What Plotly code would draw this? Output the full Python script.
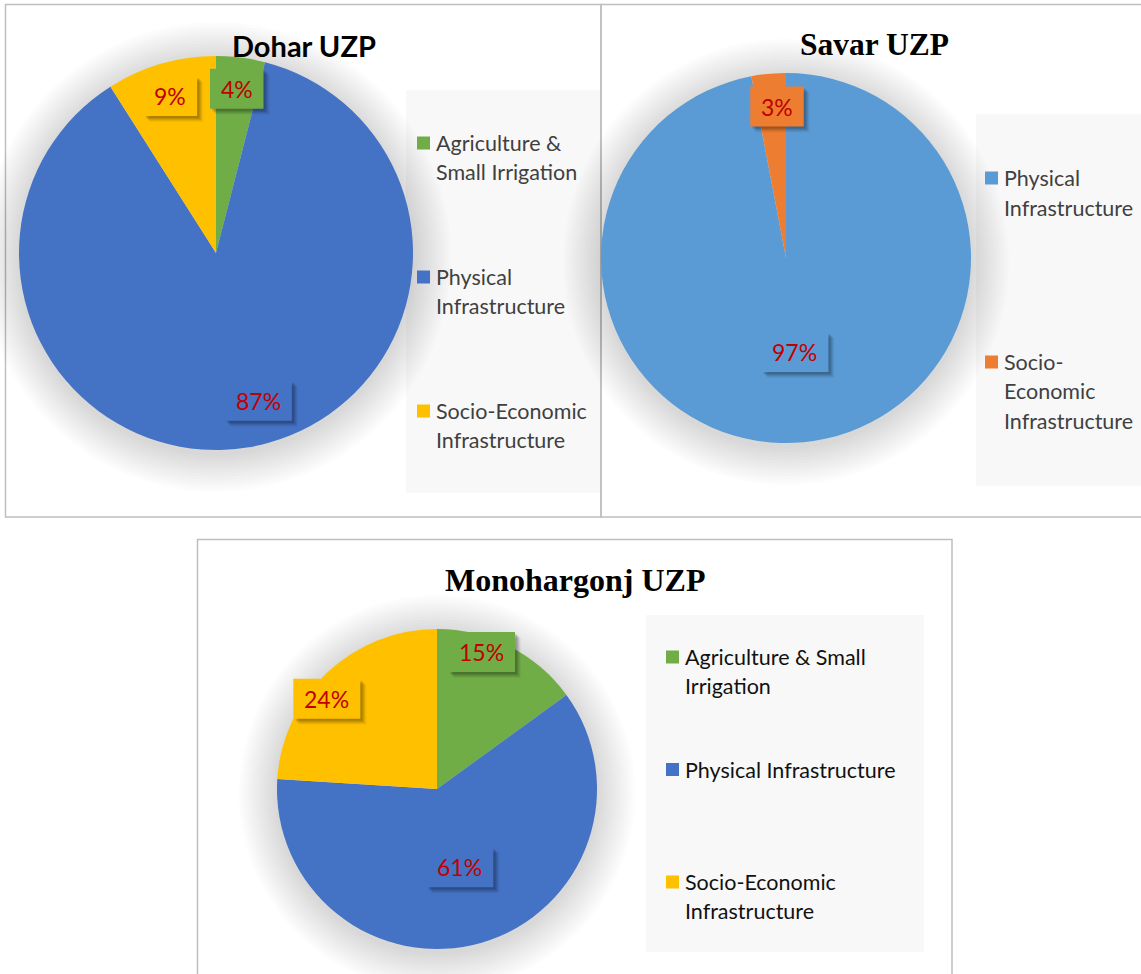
import math
import plotly.graph_objects as go

W, H = 1141, 974

# ---------------- data ----------------
titles = ["Dohar UZP", "Savar UZP", "Monohargonj UZP"]

dohar_categories = ["Agriculture & Small Irrigation", "Physical Infrastructure",
                    "Socio-Economic Infrastructure"]
dohar_values = [4, 87, 9]

savar_categories = ["Physical Infrastructure", "Socio-Economic Infrastructure"]
savar_values = [97, 3]

mono_categories = ["Agriculture & Small Irrigation", "Physical Infrastructure",
                   "Socio-Economic Infrastructure"]
mono_values = [15, 61, 24]

# ---------------- styles ----------------
GREEN, BLUE, GOLD = "#70AD47", "#4472C4", "#FFC000"
LBLUE, ORANGE = "#5B9BD5", "#ED7D31"
LABEL_RED = "#C00000"
SANS = "Lato, 'Open Sans', sans-serif"
SERIF = "'Liberation Serif', 'Times New Roman', serif"
LEG_SIZE = 21.5
LAB_SIZE = 23

panels = [
    dict(title=titles[0], cats=dohar_categories, vals=dohar_values,
         colors=[GREEN, BLUE, GOLD],
         box=(5.5, 4.5, 601, 517), center=(216, 253), r=197,
         title_xy=(304, 46), title_font=dict(family=SANS, size=29, color="black"),
         leg_box=(406, 90, 600, 493), leg_x=417, leg_y0=143, leg_step=134, line_h=28.5,
         wrap=16, leg_color="#404040",
         lab_pos=[(0.84, 0), (0.78, -7), (0.83, 0)]),
    dict(title=titles[1], cats=savar_categories, vals=savar_values,
         colors=[LBLUE, ORANGE],
         box=(601, 4.5, 1145, 517), center=(786, 258), r=185,
         title_xy=(874, 45), title_font=dict(family=SERIF, size=31.5, color="black"),
         leg_box=(976, 114, 1141, 486), leg_x=985, leg_y0=178, leg_step=184, line_h=29.5,
         wrap=13, leg_color="#404040",
         lab_pos=[(0.51, 0), (0.82, 2)]),
    dict(title=titles[2], cats=mono_categories, vals=mono_values,
         colors=[GREEN, BLUE, GOLD],
         box=(197.5, 539.5, 952, 980), center=(437, 789), r=160,
         title_xy=(575, 580), title_font=dict(family=SERIF, size=32, color="black"),
         leg_box=(646, 615, 924, 952), leg_x=666, leg_y0=657, leg_step=112.5, line_h=29,
         wrap=23, leg_color="#111111",
         lab_pos=[(0.90, -9), (0.51, 0), (0.89, -7.5)]),
]


def px(x):
    return x / W


def py(y):
    return 1 - y / H


def wrap(text, limit):
    tokens = []
    for word in text.split(" "):
        parts = word.split("-")
        for i, p in enumerate(parts):
            if i < len(parts) - 1:
                tokens.append((p + "-", False))
            else:
                tokens.append((p, True))
    lines, cur, sep_prev = [], "", True
    for tok, space_after in tokens:
        cand = (cur + (" " if (cur and sep_prev) else "") + tok) if cur else tok
        if cur and len(cand) > limit:
            lines.append(cur)
            cur = tok
        else:
            cur = cand
        sep_prev = space_after
    if cur:
        lines.append(cur)
    return lines


fig = go.Figure()
shapes, annotations = [], []

for p in panels:
    cx, cy = p["center"]
    r = p["r"]
    x0, y0, x1, y1 = p["box"]
    shapes.append(dict(type="rect", xref="paper", yref="paper",
                       x0=px(x0), x1=px(x1), y0=py(y0), y1=py(y1),
                       line=dict(color="#BFBFBF", width=1.5), fillcolor="rgba(0,0,0,0)",
                       layer="below"))
    lx0, ly0, lx1, ly1 = p["leg_box"]
    shapes.append(dict(type="rect", xref="paper", yref="paper",
                       x0=px(lx0), x1=px(lx1), y0=py(ly0), y1=py(ly1),
                       line=dict(width=0), fillcolor="#F8F8F8", layer="below"))
    for k in range(2, 40, 3):
        shapes.append(dict(type="circle", xref="paper", yref="paper",
                           x0=px(cx - r - k), x1=px(cx + r + k),
                           y0=py(cy + 4 - r - k), y1=py(cy + 4 + r + k),
                           line=dict(width=0), fillcolor="rgba(0,0,0,0.012)",
                           layer="below"))

    fig.add_trace(go.Pie(
        labels=p["cats"], values=p["vals"], sort=False, direction="clockwise",
        rotation=0, marker=dict(colors=p["colors"], line=dict(width=0)),
        textinfo="none", hoverinfo="label+percent", showlegend=False,
        domain=dict(x=[px(cx - r), px(cx + r)], y=[py(cy + r), py(cy - r)]),
    ))

    annotations.append(dict(xref="paper", yref="paper", x=px(p["title_xy"][0]),
                            y=py(p["title_xy"][1]), text="<b>%s</b>" % p["title"],
                            showarrow=False, font=p["title_font"],
                            xanchor="center", yanchor="middle"))

    # data labels: boxed, with a soft drop shadow
    total = sum(p["vals"])
    cum = 0
    for v, col, (frac, dang) in zip(p["vals"], p["colors"], p["lab_pos"]):
        mid = (cum + v / 2) / total * 360 + dang
        cum += v
        lx = cx + frac * r * math.sin(math.radians(mid))
        ly = cy - frac * r * math.cos(math.radians(mid))
        txt = "%d%%" % round(v / total * 100)
        bw = 13.5 * (len(txt) - 1) + 20 + 20
        bh = 40
        for off, a in [(2, 0.10), (3, 0.09), (4, 0.08), (5, 0.06), (6, 0.04)]:
            shapes.append(dict(type="rect", xref="paper", yref="paper",
                               x0=px(lx - bw / 2 + off), x1=px(lx + bw / 2 + off),
                               y0=py(ly - bh / 2 + off), y1=py(ly + bh / 2 + off),
                               line=dict(width=0), fillcolor="rgba(0,0,0,%.2f)" % a))
        shapes.append(dict(type="rect", xref="paper", yref="paper",
                           x0=px(lx - bw / 2), x1=px(lx + bw / 2),
                           y0=py(ly - bh / 2), y1=py(ly + bh / 2),
                           line=dict(width=0), fillcolor=col))
        annotations.append(dict(xref="paper", yref="paper", x=px(lx), y=py(ly),
                                text=txt, showarrow=False,
                                font=dict(family=SANS, size=LAB_SIZE, color=LABEL_RED),
                                xanchor="center", yanchor="middle"))

    for i, (cat, col) in enumerate(zip(p["cats"], p["colors"])):
        yy = p["leg_y0"] + i * p["leg_step"]
        sx = p["leg_x"]
        shapes.append(dict(type="rect", xref="paper", yref="paper",
                           x0=px(sx), x1=px(sx + 13), y0=py(yy - 6.5), y1=py(yy + 6.5),
                           line=dict(width=0), fillcolor=col))
        for j, line in enumerate(wrap(cat, p["wrap"])):
            annotations.append(dict(xref="paper", yref="paper", x=px(sx + 17),
                                    y=py(yy + j * p["line_h"]), text=line,
                                    showarrow=False,
                                    font=dict(family=SANS, size=LEG_SIZE, color=p["leg_color"]),
                                    xanchor="left", yanchor="middle"))

fig.update_layout(
    width=W, height=H, margin=dict(l=0, r=0, t=0, b=0),
    paper_bgcolor="white", plot_bgcolor="white",
    shapes=shapes, annotations=annotations, showlegend=False,
)

fig.write_html("out.html", config={"displayModeBar": False},
               post_script="document.body.style.margin='0px';document.body.style.overflow='hidden';")
